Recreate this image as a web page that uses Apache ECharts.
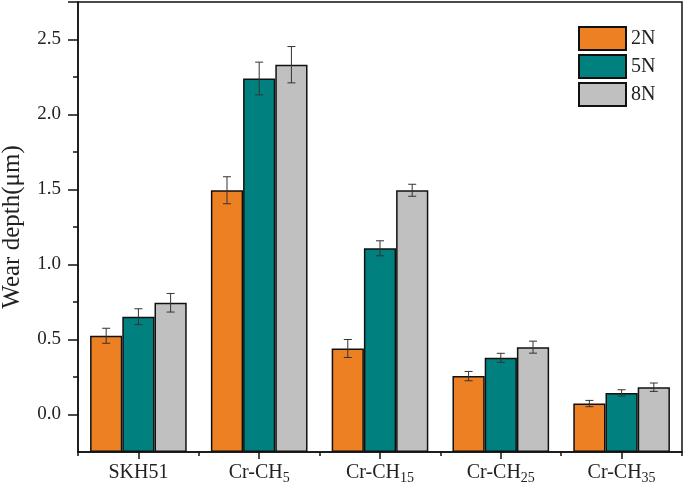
<!DOCTYPE html>
<html>
<head>
<meta charset="utf-8">
<script src="https://cdn.jsdelivr.net/npm/echarts@6/dist/echarts.min.js"></script>
<style>
html,body{margin:0;padding:0;background:#fff;}
#chart{width:685px;height:489px;}
</style>
</head>
<body>
<div id="chart"></div>
<script>
var categories = ['SKH51', 'Cr-CH5', 'Cr-CH15', 'Cr-CH25', 'Cr-CH35'];
var seriesNames = ['2N', '5N', '8N'];
var values2N = [0.525, 1.495, 0.44, 0.256, 0.073];
var values5N = [0.652, 2.24, 1.108, 0.378, 0.144];
var values8N = [0.745, 2.332, 1.495, 0.449, 0.182];
var err2N = [0.05, 0.09, 0.06, 0.031, 0.021];
var err5N = [0.053, 0.109, 0.05, 0.03, 0.021];
var err8N = [0.062, 0.121, 0.04, 0.04, 0.028];
var yTickLabels = ['0.0', '0.5', '1.0', '1.5', '2.0', '2.5'];

var colors = ['#EE8024', '#00807F', '#C0C0C0'];
var FONT = '"Liberation Serif", "Times New Roman", serif';
var allValues = [values2N, values5N, values8N];
var allErr = [err2N, err5N, err8N];

var chart = echarts.init(document.getElementById('chart'), null, {renderer: 'canvas'});

var series = [];
for (var s = 0; s < 3; s++) {
  series.push({
    name: seriesNames[s],
    type: 'bar',
    xAxisIndex: 0,
    yAxisIndex: 0,
    data: allValues[s],
    barGap: '0%',
    barCategoryGap: '20%',
    itemStyle: {color: colors[s], borderColor: '#111', borderWidth: 1.5},
    emphasis: {disabled: true}
  });
}
for (var s2 = 0; s2 < 3; s2++) {
  (function (si) {
    var d = [];
    for (var i = 0; i < categories.length; i++) {
      d.push([i, allValues[si][i] - allErr[si][i], allValues[si][i] + allErr[si][i]]);
    }
    series.push({
      type: 'custom',
      xAxisIndex: 0,
      yAxisIndex: 0,
      silent: true,
      z: 10,
      data: d,
      renderItem: function (params, api) {
        var ci = api.value(0);
        var lo = api.coord([ci, api.value(1)]);
        var hi = api.coord([ci, api.value(2)]);
        var bandW = api.size([1, 0])[0];
        var barW = bandW * 0.8 / 3;
        var x = lo[0] + (si - 1) * barW;
        var cap = 4;
        var st = {stroke: '#333', lineWidth: 1, fill: null};
        return {
          type: 'group',
          children: [
            {type: 'line', shape: {x1: x, y1: lo[1], x2: x, y2: hi[1]}, style: st},
            {type: 'line', shape: {x1: x - cap, y1: lo[1], x2: x + cap, y2: lo[1]}, style: st},
            {type: 'line', shape: {x1: x - cap, y1: hi[1], x2: x + cap, y2: hi[1]}, style: st}
          ]
        };
      }
    });
  })(s2);
}

var option = {
  backgroundColor: '#fff',
  animation: false,
  textStyle: {fontFamily: FONT},
  legend: {
    data: seriesNames,
    orient: 'vertical',
    left: 578,
    top: 26,
    padding: 0,
    itemWidth: 47,
    itemHeight: 23,
    itemGap: 3,
    icon: 'rect',
    textStyle: {fontFamily: FONT, fontSize: 20, color: '#222'},
    selectedMode: false
  },
  grid: [
    {left: 78, right: 3, top: 2, bottom: 37, show: true, borderColor: '#111', borderWidth: 1.5, containLabel: false, outerBoundsMode: 'none'},
    {left: 78, right: 3, top: 2, bottom: 74.5, show: false, containLabel: false, outerBoundsMode: 'none'}
  ],
  xAxis: [
    {
      type: 'category',
      gridIndex: 0,
      data: categories,
      axisLine: {onZero: false, lineStyle: {color: '#111', width: 1.5}},
      axisTick: {show: true, inside: false, length: 4, lineStyle: {color: '#111', width: 1.5}},
      axisLabel: {
        margin: 9,
        color: '#222',
        fontFamily: FONT,
        formatter: function (v) {
          var m = v.match(/^(Cr-CH)(\d+)$/);
          if (m) return '{a|' + m[1] + '}{s|' + m[2] + '}';
          return '{a|' + v + '}';
        },
        rich: {
          a: {fontSize: 20, fontFamily: FONT, color: '#222', lineHeight: 24},
          s: {fontSize: 14, fontFamily: FONT, color: '#222', lineHeight: 24, verticalAlign: 'bottom', padding: [9, 0, 0, 0]}
        }
      }
    },
    {
      type: 'category',
      gridIndex: 0,
      position: 'bottom',
      data: categories,
      axisLine: {show: false, onZero: false},
      axisTick: {show: true, alignWithLabel: true, length: 7, lineStyle: {color: '#111', width: 1.5}},
      axisLabel: {show: false}
    },
    {
      type: 'category',
      gridIndex: 1,
      data: categories,
      show: false
    }
  ],
  yAxis: [
    {
      type: 'value',
      gridIndex: 0,
      min: -0.25,
      max: 2.75,
      startValue: -0.25,
      name: 'Wear depth(\u03bcm)',
      nameLocation: 'middle',
      nameGap: 53,
      nameTextStyle: {fontFamily: FONT, fontSize: 25, color: '#222'},
      axisLine: {show: true, onZero: false, lineStyle: {color: '#111', width: 1.5}},
      axisTick: {show: false},
      axisLabel: {show: false},
      splitLine: {show: false}
    },
    {
      type: 'value',
      gridIndex: 1,
      min: 0,
      max: 2.75,
      interval: 0.5,
      axisLine: {show: false},
      axisTick: {show: true, length: 10, lineStyle: {color: '#111', width: 1.5}},
      minorTick: {show: true, splitNumber: 2, length: 5, lineStyle: {color: '#111', width: 1.5}},
      axisLabel: {
        margin: 17,
        fontSize: 19,
        fontFamily: FONT,
        color: '#222',
        formatter: function (v) {
          var idx = Math.round(v / 0.5);
          return yTickLabels[idx] !== undefined ? yTickLabels[idx] : '';
        },
        showMaxLabel: false
      },
      splitLine: {show: false}
    }
  ],
  series: series
};
chart.setOption(option);
</script>
</body>
</html>
